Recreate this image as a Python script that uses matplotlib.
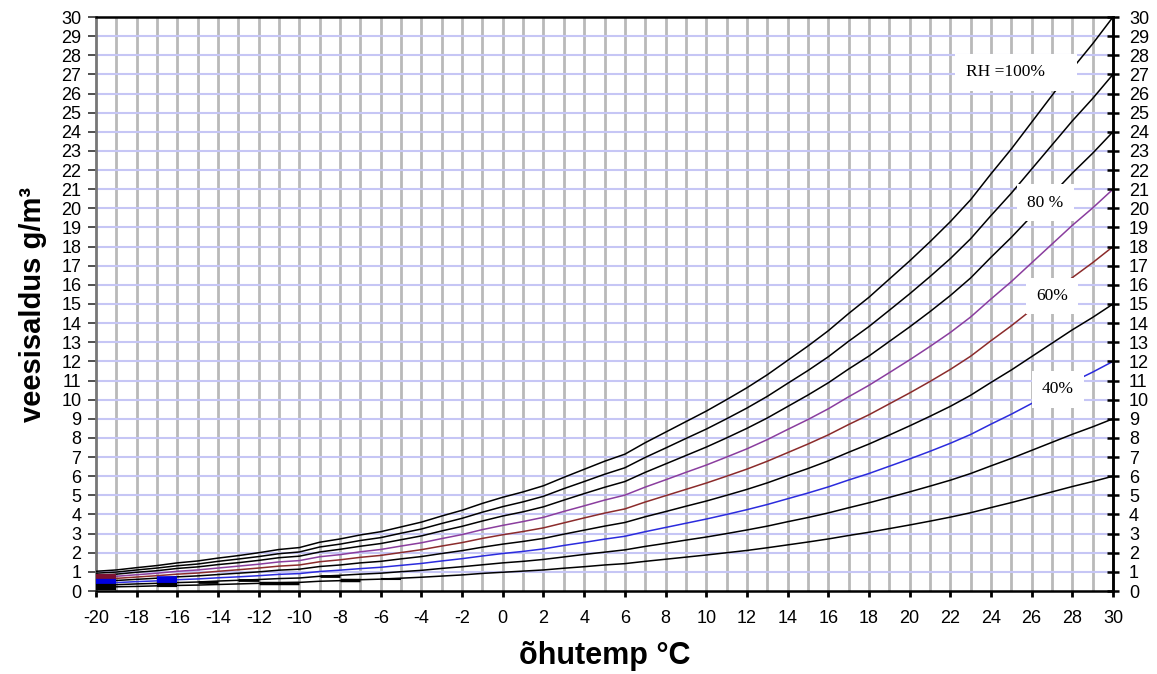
import numpy as np
import matplotlib
matplotlib.use("Agg")
import matplotlib.pyplot as plt

# air temperature, degC
temp = list(range(-20, 31))

# water content (g/m3) for each relative humidity
rh100 = [1.03, 1.10, 1.22, 1.33, 1.47, 1.57, 1.72, 1.85, 2.00, 2.17, 2.27, 2.55, 2.72, 2.93, 3.10, 3.35, 3.60,
         3.92, 4.22, 4.58, 4.90, 5.18, 5.50, 5.94, 6.36, 6.78, 7.15, 7.75, 8.30, 8.85, 9.40, 10.00, 10.62,
         11.30, 12.05, 12.80, 13.60, 14.50, 15.35, 16.30, 17.25, 18.25, 19.30, 20.45, 21.80, 23.10, 24.50,
         25.90, 27.30, 28.60, 30.00]
rh90 = [0.93, 0.99, 1.10, 1.20, 1.32, 1.41, 1.55, 1.67, 1.80, 1.95, 2.04, 2.30, 2.45, 2.64, 2.79, 3.02, 3.24,
        3.53, 3.80, 4.12, 4.41, 4.66, 4.95, 5.35, 5.72, 6.10, 6.44, 6.98, 7.47, 7.97, 8.46, 9.00, 9.56,
        10.17, 10.85, 11.52, 12.24, 13.05, 13.82, 14.67, 15.53, 16.43, 17.37, 18.41, 19.62, 20.79, 22.05,
        23.31, 24.57, 25.74, 27.00]
rh80 = [0.82, 0.88, 0.98, 1.06, 1.18, 1.26, 1.38, 1.48, 1.60, 1.74, 1.82, 2.04, 2.18, 2.34, 2.48, 2.68, 2.88,
        3.14, 3.38, 3.66, 3.92, 4.14, 4.40, 4.75, 5.09, 5.42, 5.72, 6.20, 6.64, 7.08, 7.52, 8.00, 8.50,
        9.04, 9.64, 10.24, 10.88, 11.60, 12.28, 13.04, 13.80, 14.60, 15.44, 16.36, 17.44, 18.48, 19.60,
        20.72, 21.84, 22.88, 24.00]
rh70 = [0.72, 0.77, 0.85, 0.93, 1.03, 1.10, 1.20, 1.30, 1.40, 1.52, 1.59, 1.79, 1.90, 2.05, 2.17, 2.35, 2.52,
        2.74, 2.95, 3.21, 3.43, 3.63, 3.85, 4.16, 4.45, 4.75, 5.01, 5.43, 5.81, 6.20, 6.58, 7.00, 7.43,
        7.91, 8.44, 8.96, 9.52, 10.15, 10.75, 11.41, 12.08, 12.78, 13.51, 14.32, 15.26, 16.17, 17.15,
        18.13, 19.11, 20.02, 21.00]
rh60 = [0.62, 0.66, 0.73, 0.80, 0.88, 0.94, 1.03, 1.11, 1.20, 1.30, 1.36, 1.53, 1.63, 1.76, 1.86, 2.01, 2.16,
        2.35, 2.53, 2.75, 2.94, 3.11, 3.30, 3.56, 3.82, 4.07, 4.29, 4.65, 4.98, 5.31, 5.64, 6.00, 6.37,
        6.78, 7.23, 7.68, 8.16, 8.70, 9.21, 9.78, 10.35, 10.95, 11.58, 12.27, 13.08, 13.86, 14.70,
        15.54, 16.38, 17.16, 18.00]
rh50 = [0.52, 0.55, 0.61, 0.67, 0.74, 0.79, 0.86, 0.93, 1.00, 1.09, 1.14, 1.28, 1.36, 1.47, 1.55, 1.68, 1.80,
        1.96, 2.11, 2.29, 2.45, 2.59, 2.75, 2.97, 3.18, 3.39, 3.58, 3.88, 4.15, 4.43, 4.70, 5.00, 5.31,
        5.65, 6.03, 6.40, 6.80, 7.25, 7.68, 8.15, 8.63, 9.13, 9.65, 10.23, 10.90, 11.55, 12.25,
        12.95, 13.65, 14.30, 15.00]
rh40 = [0.41, 0.44, 0.49, 0.53, 0.59, 0.63, 0.69, 0.74, 0.80, 0.87, 0.91, 1.02, 1.09, 1.17, 1.24, 1.34, 1.44,
        1.57, 1.69, 1.83, 1.96, 2.07, 2.20, 2.38, 2.54, 2.71, 2.86, 3.10, 3.32, 3.54, 3.76, 4.00, 4.25,
        4.52, 4.82, 5.12, 5.44, 5.80, 6.14, 6.52, 6.90, 7.30, 7.72, 8.18, 8.72, 9.24, 9.80,
        10.36, 10.92, 11.44, 12.00]
rh30 = [0.31, 0.33, 0.37, 0.40, 0.44, 0.47, 0.52, 0.56, 0.60, 0.65, 0.68, 0.77, 0.82, 0.88, 0.93, 1.01, 1.08,
        1.18, 1.27, 1.37, 1.47, 1.55, 1.65, 1.78, 1.91, 2.03, 2.15, 2.33, 2.49, 2.66, 2.82, 3.00, 3.19,
        3.39, 3.62, 3.84, 4.08, 4.35, 4.61, 4.89, 5.18, 5.48, 5.79, 6.14, 6.54, 6.93, 7.35,
        7.77, 8.19, 8.58, 9.00]
rh20 = [0.21, 0.22, 0.24, 0.27, 0.29, 0.31, 0.34, 0.37, 0.40, 0.43, 0.45, 0.51, 0.54, 0.59, 0.62, 0.67, 0.72,
        0.78, 0.84, 0.92, 0.98, 1.04, 1.10, 1.19, 1.27, 1.36, 1.43, 1.55, 1.66, 1.77, 1.88, 2.00, 2.12,
        2.26, 2.41, 2.56, 2.72, 2.90, 3.07, 3.26, 3.45, 3.65, 3.86, 4.09, 4.36, 4.62, 4.90,
        5.18, 5.46, 5.72, 6.00]

curves = [rh100, rh90, rh80, rh70, rh60, rh50, rh40, rh30, rh20]
colors = ["black", "black", "black", "#8a3d9e", "#8b2b2b", "black", "#2b2bdd", "black", "black"]

# short thick pieces near the bottom left of the original
blk_x0 = [-20, -20, -20, -17, -17, -15, -13, -12, -9, -8, -6]
blk_x1 = [-19, -19, -19, -16, -16, -14, -12, -10, -8, -7, -5]
blk_y = [0.72, 0.46, 0.20, 0.55, 0.30, 0.49, 0.56, 0.40, 0.76, 0.57, 0.63]
blk_c = ["#7a1030", "#0000dd", "black", "#0000dd", "black", "black", "black", "black", "black", "black", "black"]
blk_w = [4.5, 4.5, 4.5, 5.5, 3.0, 2.0, 2.0, 2.5, 2.0, 2.5, 1.5]

# curve labels: text, x, y, alignment
lab_txt = ["RH =100%     ", "80 %", "60%", "40%"]
lab_x = [22.75, 26.66, 27.0, 27.3]
lab_y = [27.1, 20.3, 15.42, 10.55]
lab_ha = ["left", "center", "center", "center"]

plt.rcParams["font.family"] = ["Liberation Sans", "DejaVu Sans"]
plt.rcParams["axes.unicode_minus"] = False

fig = plt.figure(figsize=(11.57, 6.74), dpi=100)
ax = fig.add_axes([96 / 1157, 1 - 591 / 674, (1113 - 96) / 1157, (591 - 17) / 674])

for v in range(-19, 30):
    ax.axvline(v, color="#b9b9b9", lw=2.0, zorder=1)
for v in range(1, 30):
    ax.axhline(v, color="#c6c6f5", lw=1.5, zorder=1.5)

for ys, c in zip(curves, colors):
    ax.plot(temp, ys, color=c, lw=1.1, zorder=3)

for x0, x1, y, c, w in zip(blk_x0, blk_x1, blk_y, blk_c, blk_w):
    ax.plot([x0, x1], [y, y], color=c, lw=w, solid_capstyle="butt", zorder=3)

for t, x, y, ha in zip(lab_txt, lab_x, lab_y, lab_ha):
    ax.text(x, y, t, family="Liberation Serif", fontsize=12.5, ha=ha, va="center", zorder=5,
            bbox=dict(boxstyle="square,pad=0.6", facecolor="white", edgecolor="none"))

ax.set_xlim(-20, 30)
ax.set_ylim(0, 30)
ax.set_xticks(range(-20, 31, 2))
ax.set_yticks(range(0, 31))
ax.tick_params(axis="x", direction="out", length=4.5, width=2, pad=9, labelsize=13, color="black")
ax.tick_params(axis="y", direction="out", length=5.5, width=1.2, pad=5, labelsize=13, color="#333333")

for side in ["top", "bottom", "right"]:
    ax.spines[side].set_color("black")
    ax.spines[side].set_linewidth(1.8)
ax.spines["left"].set_color("#777777")
ax.spines["left"].set_linewidth(2.0)

ax2 = ax.twinx()
ax2.set_ylim(0, 30)
ax2.set_yticks(range(0, 31))
ax2.tick_params(axis="y", direction="inout", length=9, width=1.8, pad=7, labelsize=13, color="black")
for side in ["top", "bottom", "left"]:
    ax2.spines[side].set_visible(False)
ax2.spines["right"].set_linewidth(1.8)

ax.set_xlabel("õhutemp °C", fontsize=22, fontweight="bold", labelpad=10)
ax.set_ylabel("veesisaldus g/m³", fontsize=21, fontweight="bold", labelpad=10)

fig.savefig("out.png", dpi=100)
